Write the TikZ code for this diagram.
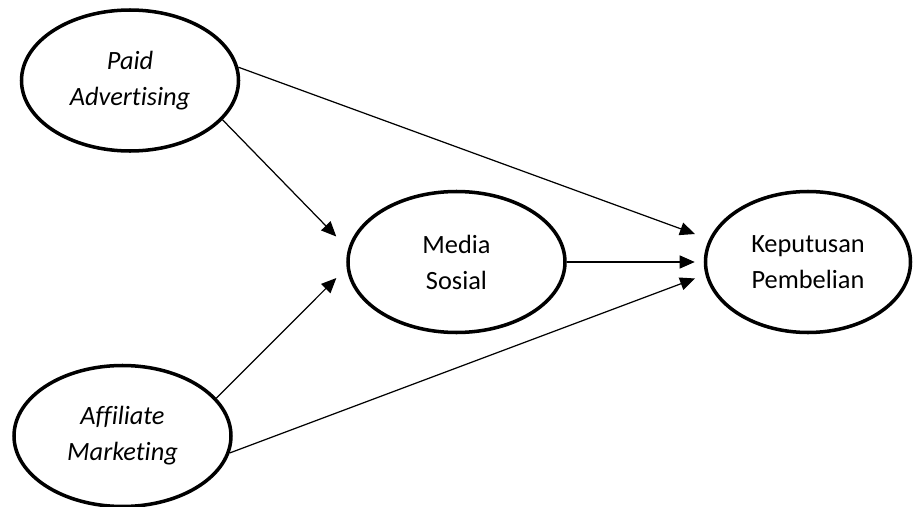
\documentclass[tikz,border=0pt]{standalone}
\usepackage{fontspec}
\setmainfont{Carlito}[Ligatures=NoCommon]
\usepackage{tikz}
\usetikzlibrary{shapes.geometric}
\usetikzlibrary{arrows.meta}

\begin{document}
\begin{tikzpicture}[
        construct/.style={ellipse, draw, line width=2pt, inner sep=0pt, minimum width=4.34cm, minimum height=2.82cm, align=center, font=\fontsize{15}{20.5}\selectfont},
        exogen/.style={construct, font=\fontsize{15}{20.5}\selectfont\itshape},
        link/.style={line width=0.7pt, -{Triangle[length=0.3cm, width=0.26cm]}}
    ]

        \useasboundingbox (0,0) rectangle (18.26,10.12);

        \node[exogen] (paid) at (2.60,8.51) {Paid\\Advertising};

        \node[exogen] (affiliate) at (2.45,1.40) {Affiliate\\Marketing};

        \node[construct] (medsos) at (9.13,4.88) {Media\\Sosial};

        \node[construct, minimum width=4.1cm] (keputusan) at (16.16,4.88) {Keputusan\\Pembelian};

        \draw[link, shorten >=0.34cm] (paid.-23) -- (medsos.173.5);

        \draw[link, shorten >=0.29cm] (affiliate.22) -- (medsos.183);

        \draw[link, shorten >=0.18cm] (medsos.east) -- (keputusan.west);

        \draw[link, shorten >=0.3cm] (paid.7) -- (keputusan.167);

        \draw[link, shorten >=0.22cm] (affiliate.-9) -- (keputusan.187);

    \end{tikzpicture}
\end{document}
